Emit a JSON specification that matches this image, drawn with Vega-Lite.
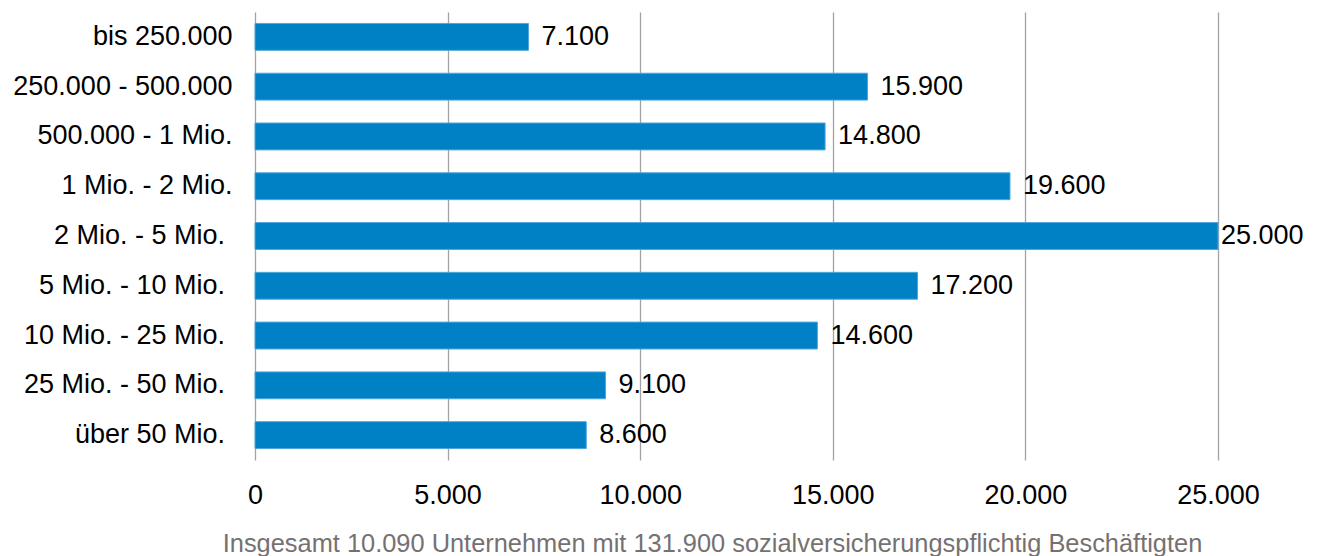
{
  "$schema": "https://vega.github.io/schema/vega-lite/v6.json",
  "autosize": {"type": "none"},
  "padding": {"left": 255, "top": 12, "right": 101, "bottom": 96},
  "width": 963,
  "height": 448,
  "config": {
    "locale": {"number": {"decimal": ",", "thousands": ".", "grouping": [3], "currency": ["", " €"]}},
    "view": {"stroke": null},
    "font": "Liberation Sans"
  },
  "data": {
    "values": [
      {"klasse": "bis 250.000", "anzahl": 7100},
      {"klasse": "250.000 - 500.000", "anzahl": 15900},
      {"klasse": "500.000 - 1 Mio.", "anzahl": 14800},
      {"klasse": "1 Mio. - 2 Mio.", "anzahl": 19600},
      {"klasse": "2 Mio. - 5 Mio.", "anzahl": 25000},
      {"klasse": "5 Mio. - 10 Mio.", "anzahl": 17200},
      {"klasse": "10 Mio. - 25 Mio.", "anzahl": 14600},
      {"klasse": "25 Mio. - 50 Mio.", "anzahl": 9100},
      {"klasse": "über 50 Mio.", "anzahl": 8600}
    ]
  },
  "encoding": {
    "y": {
      "field": "klasse",
      "type": "nominal",
      "sort": null,
      "scale": {"paddingInner": 0.46, "paddingOuter": 0.23},
      "axis": {
        "title": null,
        "domain": false,
        "ticks": false,
        "tickSize": 0,
        "labelPadding": 23,
        "labelLimit": 0,
        "labelFontSize": 27,
        "labelColor": "#000000",
        "labelFont": "Liberation Sans",
        "labelExpr": "indexof(['bis 250.000','250.000 - 500.000','500.000 - 1 Mio.','1 Mio. - 2 Mio.'], datum.label) >= 0 ? datum.label : datum.label + '\u00a0\u200b'"
      }
    },
    "x": {
      "field": "anzahl",
      "type": "quantitative",
      "scale": {"domain": [0, 25000], "nice": false},
      "axis": {
        "values": [0, 5000, 10000, 15000, 20000, 25000],
        "format": ",d",
        "domain": false,
        "ticks": false,
        "tickSize": 0,
        "grid": true,
        "gridColor": "#a3a3a3",
        "gridWidth": 1.3,
        "labelFlush": false,
        "labelPadding": 22,
        "labelFontSize": 27,
        "labelColor": "#000000",
        "labelFont": "Liberation Sans",
        "title": "Insgesamt 10.090 Unternehmen mit 131.900 sozialversicherungspflichtig Beschäftigten",
        "titleFont": "Liberation Sans",
        "titleFontSize": 25.4,
        "titleFontWeight": "normal",
        "titleColor": "#767171",
        "titleAlign": "center",
        "titleBaseline": "alphabetic",
        "titleLimit": 0,
        "titleX": 457,
        "titleY": 91
      }
    }
  },
  "layer": [
    {
      "mark": {"type": "bar", "color": "#0081c6", "stroke": "#4ea6dd", "strokeWidth": 1}
    },
    {
      "transform": [{"filter": "datum.anzahl < 25000"}],
      "mark": {"type": "text", "align": "left", "baseline": "middle", "dx": 13, "fontSize": 27, "color": "#000000", "font": "Liberation Sans"},
      "encoding": {"text": {"field": "anzahl", "type": "quantitative", "format": ",d"}}
    },
    {
      "transform": [{"filter": "datum.anzahl >= 25000"}],
      "mark": {"type": "text", "align": "left", "baseline": "middle", "dx": 3, "fontSize": 27, "color": "#000000", "font": "Liberation Sans"},
      "encoding": {"text": {"field": "anzahl", "type": "quantitative", "format": ",d"}}
    }
  ]
}
